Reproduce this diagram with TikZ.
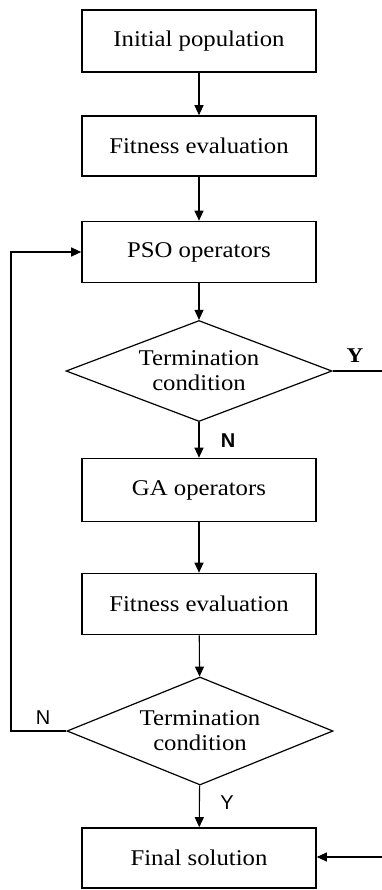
\documentclass[tikz,border=0pt]{standalone}
\usepackage{fontspec}
\setmainfont{Liberation Serif}[FakeStretch=1.1]
\newfontfamily\labsans{Liberation Sans}
\usetikzlibrary{shapes.geometric,arrows.meta}
\begin{document}
\begin{tikzpicture}[x=1pt,y=-1pt,
  boxnode/.style={draw,line width=1.6pt,minimum width=234pt,inner sep=0pt,font=\fontsize{22.5}{25}\selectfont},
  decnode/.style={draw,diamond,line width=1.2pt,minimum width=266pt,aspect=2.5,inner sep=0pt,align=center,font=\fontsize{22.5}{25}\selectfont},
  conn/.style={line width=1.1pt,-{Triangle[length=10pt,width=9pt]}},
  plain/.style={line width=1.1pt},
  labser/.style={font=\fontsize{21}{22}\selectfont\bfseries},
  labsan/.style={font=\fontsize{20}{22}\selectfont\labsans}]
\useasboundingbox (0,0) rectangle (382,890);
\node[boxnode,minimum height=62pt] (init) at (199,41) {Initial population};
\node[boxnode,minimum height=60pt] (fit1) at (199,146) {Fitness evaluation};
\node[boxnode,minimum height=61pt] (pso) at (199,252) {PSO operators};
\node[decnode,minimum height=101pt] (d1) at (199,371) {Termination\\condition};
\node[boxnode,minimum height=63pt] (ga) at (199,490) {GA operators};
\node[boxnode,minimum height=61pt] (fit2) at (199,604) {Fitness evaluation};
\node[decnode,minimum height=108pt] (d2) at (200,731) {Termination\\condition};
\node[boxnode,minimum height=60pt] (fin) at (199,858) {Final solution};
\coordinate (yout) at (382,371);
\coordinate (yin) at (382,857);
\coordinate (lb) at (11,731);
\coordinate (lt) at (11,252);
\draw[conn] (init) -- (fit1);
\draw[conn] (fit1) -- (pso);
\draw[conn] (pso) -- (d1);
\draw[conn] (d1) -- (ga);
\draw[conn] (ga) -- (fit2);
\draw[conn] (fit2) -- (d2);
\draw[conn] (d2) -- (fin);
\draw[plain] (d1.east) -- (yout);
\draw[conn] (yin) -- (fin.east |- yin);
\draw[conn] (d2.west) -- (lb) -- (lt) -- (pso.west);
\node[labser] (ly1) at (355,356) {Y};
\node[labsan,font=\fontsize{20}{22}\selectfont\labsans\bfseries] (ln1) at (228,441) {N};
\node[labsan] (ln2) at (43,718) {N};
\node[labsan] (ly2) at (227,803) {Y};
\end{tikzpicture}
\end{document}
